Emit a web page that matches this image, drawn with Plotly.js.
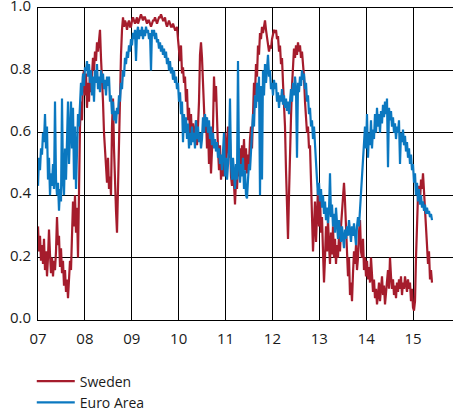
<!DOCTYPE html>
<html>
<head>
<meta charset="utf-8">
<script src="https://cdn.plot.ly/plotly-3.0.1.min.js"></script>
<style>html,body{margin:0;padding:0;background:#fff;}#chart{width:453px;height:414px;}</style>
</head>
<body>
<div id="chart"></div>
<script>
// Regularly sampled series (roughly weekly), first and last observation in decimal years
const firstObs = 2007.0;
const lastObs = 2015.405;

const sweden = [
0.30,0.22,0.27,0.19,0.24,0.18,0.26,0.16,0.22,0.14,
0.20,0.29,0.21,0.15,0.20,0.14,0.19,0.16,0.22,0.33,
0.24,0.27,0.17,0.23,0.15,0.19,0.11,0.16,0.09,0.13,
0.07,0.15,0.19,0.16,0.25,0.38,0.30,0.40,0.28,0.36,
0.20,0.45,0.62,0.70,0.64,0.78,0.80,0.72,0.79,0.68,
0.76,0.70,0.80,0.73,0.78,0.84,0.80,0.86,0.83,0.89,
0.86,0.91,0.93,0.84,0.78,0.70,0.60,0.55,0.50,0.44,
0.52,0.42,0.46,0.40,0.62,0.71,0.55,0.40,0.35,0.28,
0.45,0.62,0.75,0.85,0.93,0.97,0.94,0.96,0.95,0.93,
0.95,0.96,0.94,0.94,0.96,0.97,0.96,0.95,0.96,0.97,
0.95,0.96,0.97,0.98,0.97,0.96,0.97,0.97,0.96,0.95,
0.96,0.96,0.95,0.94,0.95,0.96,0.96,0.97,0.96,0.95,
0.96,0.97,0.97,0.98,0.97,0.96,0.96,0.97,0.95,0.94,
0.95,0.96,0.95,0.94,0.94,0.95,0.94,0.93,0.93,0.94,
0.90,0.86,0.83,0.88,0.79,0.81,0.76,0.78,0.70,0.74,
0.64,0.68,0.60,0.66,0.58,0.63,0.60,0.58,0.64,0.56,
0.62,0.70,0.85,0.89,0.84,0.78,0.68,0.60,0.65,0.55,
0.62,0.50,0.58,0.47,0.55,0.62,0.78,0.70,0.75,0.60,
0.55,0.48,0.56,0.45,0.52,0.46,0.55,0.60,0.50,0.55,
0.62,0.52,0.58,0.46,0.43,0.50,0.40,0.37,0.45,0.42,
0.50,0.46,0.55,0.48,0.56,0.50,0.58,0.48,0.55,0.47,
0.53,0.50,0.58,0.62,0.55,0.68,0.76,0.72,0.82,0.78,
0.88,0.85,0.92,0.90,0.94,0.92,0.95,0.96,0.93,0.90,
0.87,0.86,0.88,0.87,0.90,0.92,0.93,0.92,0.93,0.90,
0.91,0.86,0.88,0.82,0.84,0.76,0.70,0.62,0.48,0.35,
0.26,0.40,0.58,0.65,0.75,0.84,0.87,0.84,0.88,0.85,
0.89,0.86,0.88,0.84,0.86,0.82,0.78,0.70,0.64,0.60,
0.62,0.55,0.56,0.45,0.35,0.22,0.30,0.38,0.25,0.36,
0.42,0.30,0.40,0.28,0.33,0.22,0.12,0.20,0.30,0.22,
0.32,0.24,0.18,0.28,0.21,0.30,0.20,0.26,0.18,0.24,
0.20,0.27,0.22,0.30,0.34,0.40,0.44,0.38,0.28,0.22,
0.14,0.20,0.08,0.12,0.06,0.15,0.22,0.18,0.24,0.16,
0.20,0.28,0.32,0.22,0.20,0.26,0.16,0.20,0.14,0.19,
0.13,0.17,0.12,0.20,0.15,0.09,0.13,0.07,0.10,0.05,
0.08,0.12,0.06,0.10,0.14,0.08,0.11,0.05,0.09,0.12,
0.16,0.10,0.20,0.14,0.10,0.13,0.08,0.11,0.07,0.12,
0.09,0.13,0.10,0.14,0.08,0.12,0.10,0.14,0.11,0.09,
0.13,0.10,0.12,0.06,0.10,0.04,0.03,0.06,0.20,0.32,
0.40,0.43,0.38,0.45,0.42,0.47,0.40,0.35,0.30,0.24,
0.18,0.22,0.13,0.16,0.12
];

const euroArea = [
0.43,0.52,0.48,0.55,0.53,0.60,0.57,0.66,0.55,0.62,
0.45,0.52,0.40,0.47,0.43,0.50,0.42,0.70,0.45,0.40,
0.44,0.35,0.42,0.38,0.71,0.45,0.40,0.55,0.45,0.60,
0.70,0.50,0.66,0.70,0.55,0.68,0.45,0.62,0.42,0.60,
0.66,0.62,0.70,0.76,0.72,0.79,0.75,0.81,0.80,0.83,
0.78,0.82,0.76,0.80,0.72,0.78,0.70,0.80,0.76,0.82,
0.74,0.78,0.73,0.80,0.76,0.79,0.74,0.77,0.72,0.78,
0.75,0.78,0.70,0.72,0.66,0.70,0.64,0.67,0.63,0.68,
0.66,0.72,0.70,0.76,0.74,0.80,0.78,0.84,0.82,0.86,
0.84,0.88,0.86,0.90,0.88,0.92,0.90,0.93,0.83,0.92,
0.94,0.90,0.93,0.91,0.94,0.90,0.93,0.91,0.94,0.92,
0.93,0.90,0.92,0.80,0.93,0.91,0.93,0.90,0.92,0.89,
0.90,0.87,0.89,0.86,0.88,0.85,0.87,0.84,0.86,0.82,
0.84,0.80,0.83,0.79,0.81,0.77,0.80,0.76,0.78,0.74,
0.76,0.70,0.73,0.66,0.70,0.57,0.66,0.60,0.65,0.58,
0.63,0.55,0.60,0.56,0.62,0.57,0.60,0.55,0.64,0.58,
0.62,0.57,0.60,0.55,0.58,0.65,0.60,0.66,0.62,0.65,
0.60,0.64,0.58,0.62,0.56,0.60,0.55,0.58,0.54,0.57,
0.52,0.55,0.50,0.53,0.48,0.56,0.60,0.46,0.52,0.45,
0.50,0.55,0.71,0.50,0.45,0.52,0.47,0.42,0.50,0.45,
0.83,0.50,0.44,0.50,0.46,0.52,0.42,0.48,0.40,0.39,
0.45,0.50,0.48,0.56,0.60,0.66,0.62,0.72,0.68,0.76,
0.70,0.78,0.40,0.75,0.45,0.80,0.72,0.82,0.76,0.80,
0.85,0.78,0.80,0.74,0.76,0.72,0.77,0.74,0.76,0.70,
0.73,0.68,0.72,0.70,0.74,0.69,0.72,0.68,0.71,0.67,
0.70,0.66,0.71,0.74,0.70,0.76,0.72,0.78,0.74,0.52,
0.76,0.73,0.78,0.75,0.80,0.77,0.79,0.74,0.76,0.70,
0.72,0.66,0.68,0.62,0.64,0.58,0.62,0.55,0.50,0.45,
0.40,0.44,0.38,0.42,0.36,0.40,0.34,0.38,0.32,0.36,
0.31,0.35,0.47,0.33,0.37,0.30,0.34,0.28,0.36,0.30,
0.26,0.32,0.28,0.25,0.30,0.27,0.23,0.29,0.26,0.30,
0.27,0.32,0.28,0.25,0.30,0.27,0.31,0.28,0.24,0.30,
0.33,0.30,0.36,0.40,0.46,0.52,0.58,0.62,0.55,0.66,
0.52,0.60,0.56,0.64,0.55,0.61,0.58,0.66,0.60,0.68,
0.62,0.66,0.60,0.67,0.63,0.69,0.65,0.70,0.66,0.71,
0.49,0.68,0.64,0.67,0.62,0.65,0.60,0.63,0.58,0.62,
0.60,0.64,0.50,0.60,0.57,0.61,0.56,0.59,0.54,0.57,
0.52,0.55,0.50,0.53,0.48,0.50,0.44,0.47,0.40,0.44,
0.38,0.42,0.37,0.40,0.36,0.38,0.35,0.37,0.34,0.36,
0.34,0.35,0.33,0.34,0.32
];

const yearTicks = [2007, 2008, 2009, 2010, 2011, 2012, 2013, 2014, 2015];
const yearLabels = ['07', '08', '09', '10', '11', '12', '13', '14', '15'];
const valueTicks = [0, 0.2, 0.4, 0.6, 0.8, 1.0];
const valueLabels = ['0.0', '0.2', '0.4', '0.6', '0.8', '1.0'];
const seriesNames = ['Sweden', 'Euro Area'];

const n = sweden.length;
const years = sweden.map((_, i) => firstObs + i * (lastObs - firstObs) / (n - 1));

const font = {family: 'Open Sans, Noto Sans, sans-serif', size: 15, color: '#1a1a1a'};
const legendFont = {family: 'Open Sans, Noto Sans, sans-serif', size: 14, color: '#1a1a1a'};

const traces = [
  {x: years, y: sweden, name: seriesNames[0], type: 'scatter', mode: 'lines',
   line: {color: '#A51C2C', width: 2.2}},
  {x: years, y: euroArea, name: seriesNames[1], type: 'scatter', mode: 'lines',
   line: {color: '#0B78C0', width: 2.2}}
];

const layout = {
  width: 453, height: 414,
  margin: {l: 38, r: 0, t: 8, b: 94, pad: 0},
  paper_bgcolor: '#fff', plot_bgcolor: '#fff',
  font: font,
  showlegend: true,
  legend: {x: -0.015, y: 0.117, xanchor: 'left', yanchor: 'top', yref: 'container',
           orientation: 'v', font: legendFont, bgcolor: 'rgba(0,0,0,0)',
           tracegroupgap: 0, itemwidth: 38},
  xaxis: {range: [2007, 2015.853], tickvals: yearTicks, ticktext: yearLabels,
          showgrid: true, gridcolor: '#000', gridwidth: 1, zeroline: false,
          showline: true, mirror: true, linecolor: '#000', linewidth: 1, ticks: '',
          ticklabelstandoff: 5, tickfont: font, fixedrange: true, automargin: false},
  yaxis: {range: [0, 1], tickvals: valueTicks, ticktext: valueLabels,
          showgrid: true, gridcolor: '#000', gridwidth: 1, zeroline: false,
          showline: true, linecolor: '#000', linewidth: 1, ticks: '',
          ticklabelstandoff: 3, ticklabelshift: -2, ticklabeloverflow: 'allow',
          tickfont: font, fixedrange: true, automargin: false}
};

Plotly.newPlot('chart', traces, layout, {displayModeBar: false, staticPlot: true});
</script>
</body>
</html>
